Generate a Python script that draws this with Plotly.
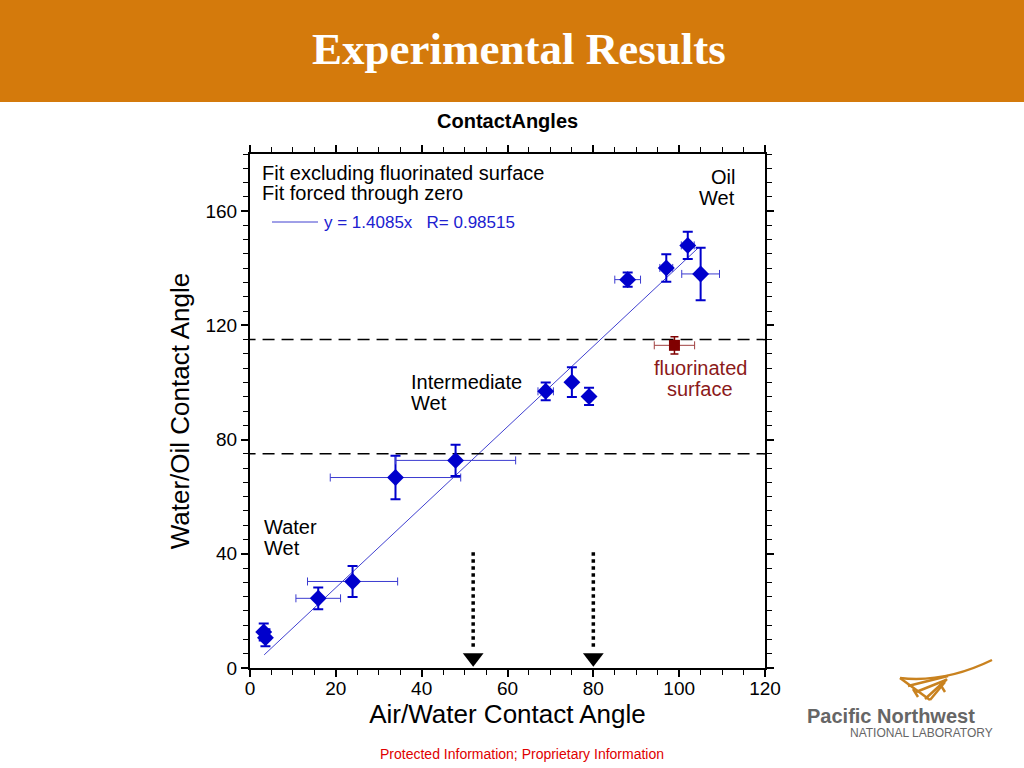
import plotly.graph_objects as go

# datos
air_water = [3.2, 3.6, 15.9, 23.9, 33.9, 47.9, 68.9, 75.0, 79.0, 88.0, 97.0, 102.0, 105.0]
water_oil = [12.6, 10.6, 24.4, 30.3, 66.7, 72.7, 96.9, 100.1, 95.1, 136.0, 140.1, 148.0, 138.0]
err_air = [0, 0, 5.2, 10.5, 15.2, 14.0, 1.8, 0, 0, 3.0, 1.5, 1.5, 4.4]
err_oil = [3.0, 3.0, 3.8, 5.4, 7.6, 5.5, 3.1, 5.2, 3.0, 2.5, 4.8, 4.8, 9.2]

fluor_x = [98.9]
fluor_y = [113.0]
fluor_err_x = [4.7]
fluor_err_y = [3.0]

fit_x = [3.3, 104.5]
fit_y = [4.6, 147.2]

limites_y = [75, 115]
flechas_x = [52, 80]
flecha_y = [40.5, 3.6]

# area de la grafica en pixeles
L, R, T, B = 250, 765, 154, 668
W, H = R - L, B - T


def fx(px):
    return (px - L) / W


def fy(py):
    return (B - py) / H


FUENTE = "Liberation Sans, Arial, sans-serif"

fig = go.Figure()

fig.add_trace(go.Scatter(
    x=fit_x, y=fit_y, mode='lines',
    line=dict(color='#4040d0', width=1), hoverinfo='skip'))

for yv in limites_y:
    fig.add_trace(go.Scatter(
        x=[-1.5, 120], y=[yv, yv], mode='lines',
        line=dict(color='black', width=1.5, dash='12px,7px'),
        hoverinfo='skip', cliponaxis=False))

for xv in flechas_x:
    fig.add_trace(go.Scatter(
        x=[xv, xv], y=[flecha_y[0], flecha_y[1] + 3], mode='lines',
        line=dict(color='black', width=3.5, dash='dot'), hoverinfo='skip'))
    fig.add_trace(go.Scatter(
        x=[xv], y=[flecha_y[1]], mode='markers',
        marker=dict(symbol='triangle-down', size=18, color='black'),
        hoverinfo='skip'))

fig.add_trace(go.Scatter(
    x=air_water, y=water_oil, mode='markers',
    marker=dict(symbol='diamond', size=13, color='#0000cc'),
    error_x=dict(type='data', array=err_air, color='#3b3bd0', thickness=1, width=4),
    error_y=dict(type='data', array=err_oil, color='#0000cc', thickness=2, width=5)))

fig.add_trace(go.Scatter(
    x=fluor_x, y=fluor_y, mode='markers',
    marker=dict(symbol='square', size=11, color='#800000'),
    error_x=dict(type='data', array=fluor_err_x, color='#a04040', thickness=1, width=4),
    error_y=dict(type='data', array=fluor_err_y, color='#800000', thickness=1.5, width=4)))

ejes = dict(showgrid=False, zeroline=False, showline=True, linecolor='black',
            linewidth=2, mirror='ticks', ticks='outside', ticklen=7, tickwidth=1.5,
            tickcolor='black', tickfont=dict(family=FUENTE, size=19, color='black'),
            minor=dict(ticks='outside', ticklen=5, tickwidth=1.2, tickcolor='black', dtick=5))

fig.update_xaxes(range=[0, 120], dtick=20, tick0=0, ticklabelstandoff=-5,
                 title=dict(text='Air/Water Contact Angle', standoff=6,
                            font=dict(family=FUENTE, size=26, color='black')), **ejes)
fig.update_yaxes(range=[0, 180], tickvals=[0, 40, 80, 120, 160],
                 title=dict(text='Water/Oil Contact Angle', standoff=8,
                            font=dict(family=FUENTE, size=26, color='black')), **ejes)

shapes = [
    # banda naranja del encabezado
    dict(type='rect', xref='paper', yref='paper', x0=fx(0), x1=fx(1024), y0=fy(0), y1=fy(102),
         fillcolor='#d47a0c', line=dict(width=0), layer='below'),
    # leyenda del ajuste
    dict(type='line', xref='paper', yref='paper', x0=fx(272), x1=fx(318), y0=fy(222), y1=fy(222),
         line=dict(color='#4040d0', width=1)),
]

# logo PNNL aproximado
logo = [
    'M {} {} Q {} {} {} {}'.format(fx(900), fy(678), fx(945), fy(683), fx(992), fy(660)),
    'M {} {} L {} {}'.format(fx(900), fy(678), fx(930), fy(700)),
    'M {} {} L {} {}'.format(fx(908), fy(686), fx(948), fy(676)),
    'M {} {} L {} {}'.format(fx(916), fy(692), fx(946), fy(680)),
    'M {} {} L {} {}'.format(fx(925), fy(699), fx(947), fy(679)),
    'M {} {} L {} {}'.format(fx(930), fy(700), fx(945), fy(682)),
    'M {} {} L {} {}'.format(fx(913), fy(689), fx(918), fy(697)),
    'M {} {} L {} {}'.format(fx(940), fy(684), fx(945), fy(692)),
]
for p in logo:
    shapes.append(dict(type='path', xref='paper', yref='paper', path=p,
                       line=dict(color='#c9821f', width=2.5)))

def texto(t, px, py, size, color='black', xanchor='left', family=FUENTE, bold=False):
    if bold:
        t = '<b>' + t + '</b>'
    return dict(text=t, xref='paper', yref='paper', x=fx(px), y=fy(py), showarrow=False,
                xanchor=xanchor, yanchor='middle',
                font=dict(family=family, size=size, color=color))

annotations = [
    texto('Experimental Results', 519, 49, 45, 'white', 'center',
          'Liberation Serif, Times New Roman, serif', True),
    texto('ContactAngles', 507, 121, 20, 'black', 'center', bold=True),
    texto('Fit excluding fluorinated surface', 260, 173, 20),
    texto('Fit forced through zero', 260, 193, 20),
    texto('y = 1.4085x   R= 0.98515', 322, 222, 17, '#2020d0'),
    texto('Oil', 737, 177, 20, 'black', 'right'),
    texto('Wet', 737, 198, 20, 'black', 'right'),
    texto('Intermediate', 409, 382, 20),
    texto('Wet', 409, 403, 20),
    texto('Water', 262, 527, 20),
    texto('Wet', 262, 548, 20),
    texto('fluorinated', 700, 368, 20, '#8b1a1a', 'center'),
    texto('surface', 700, 389, 20, '#8b1a1a', 'center'),
    texto('Protected Information; Proprietary Information', 522, 754, 14, '#e00000', 'center'),
    texto('Pacific Northwest', 891, 716, 20, '#666666', 'center', bold=True),
    texto('NATIONAL LABORATORY', 921, 733, 12, '#666666', 'center'),
]

fig.update_layout(
    width=1024, height=768,
    margin=dict(l=L, r=1024 - R, t=T, b=768 - B),
    paper_bgcolor='white', plot_bgcolor='white',
    showlegend=False,
    shapes=shapes,
    annotations=annotations,
)

fig.write_html("out.html", config={'displayModeBar': False},
               post_script="document.body.style.margin='0';")
